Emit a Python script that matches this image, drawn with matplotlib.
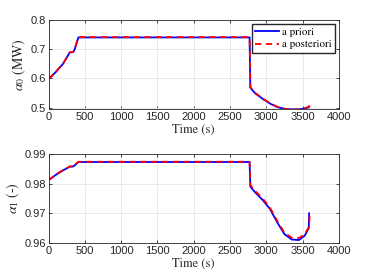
import matplotlib
matplotlib.use("Agg")
import matplotlib.pyplot as plt

plt.rcParams['mathtext.fontset'] = 'stix'

# Data
t_prior = [0, 20, 100, 200, 290, 340, 360, 410, 1000, 2000, 2770, 2780, 2850, 2950, 3050, 3150, 3250, 3350, 3450, 3530, 3585, 3590]
a0_prior = [0.605, 0.602, 0.622, 0.650, 0.688, 0.690, 0.700, 0.740, 0.740, 0.740, 0.740, 0.568, 0.548, 0.530, 0.514, 0.502, 0.496, 0.494, 0.494, 0.497, 0.501, 0.503]
a1_prior = [0.9818, 0.9815, 0.9830, 0.9845, 0.9857, 0.9858, 0.9862, 0.9873, 0.9873, 0.9873, 0.9873, 0.9790, 0.9770, 0.9745, 0.9715, 0.9670, 0.9630, 0.9612, 0.9610, 0.9625, 0.9650, 0.9700]

t_post = [0, 20, 100, 200, 290, 340, 360, 410, 1000, 2000, 2770, 2780, 2850, 2950, 3050, 3150, 3250, 3350, 3450, 3530, 3590, 3600]
a0_post = [0.608, 0.603, 0.623, 0.651, 0.689, 0.691, 0.701, 0.741, 0.741, 0.741, 0.741, 0.570, 0.550, 0.531, 0.515, 0.503, 0.496, 0.494, 0.494, 0.498, 0.503, 0.515]
a1_post = [0.9820, 0.9816, 0.9831, 0.9846, 0.9858, 0.9859, 0.9863, 0.9874, 0.9874, 0.9874, 0.9874, 0.9795, 0.9775, 0.9750, 0.9720, 0.9675, 0.9635, 0.9618, 0.9617, 0.9630, 0.9655, 0.9705]

x_ticks = [0, 500, 1000, 1500, 2000, 2500, 3000, 3500, 4000]
y0_ticks = [0.5, 0.6, 0.7, 0.8]
y1_ticks = [0.96, 0.97, 0.98, 0.99]

fig = plt.figure(figsize=(3.74, 2.80), dpi=100)
ax0 = fig.add_axes([0.130, 0.611, 0.776, 0.318])
ax1 = fig.add_axes([0.130, 0.132, 0.776, 0.318])

edge = '#262626'
for ax, yp, ypo, yt, ylim, ylab in [
    (ax0, a0_prior, a0_post, y0_ticks, (0.4955, 0.8), r'$\alpha_0$ (MW)'),
    (ax1, a1_prior, a1_post, y1_ticks, (0.96, 0.99), r'$\alpha_1$ (-)'),
]:
    ax.plot(t_prior, yp, color='#0000ff', lw=1.3, label='a priori')
    ax.plot(t_post, ypo, color='#ff0000', lw=1.3, ls=(0, (3.5, 2.5)), label='a posteriori')
    ax.set_xlim(0, 4000)
    ax.set_ylim(*ylim)
    ax.set_xticks(x_ticks)
    ax.set_yticks(yt)
    ax.grid(True, color='#e6e6e6', lw=0.6)
    ax.set_axisbelow(True)
    ax.tick_params(direction='in', length=2.5, width=0.6, labelsize=8, colors=edge,
                   top=True, right=True, pad=2)
    for lab in ax.get_xticklabels() + ax.get_yticklabels():
        lab.set_family('Liberation Sans')
    for s in ax.spines.values():
        s.set_color(edge)
        s.set_linewidth(0.6)
    ax.set_xlabel('Time (s)', family='STIXGeneral', fontsize=9, labelpad=1.5, color=edge)
    ax.set_ylabel(ylab, family='STIXGeneral', fontsize=10, labelpad=2, color=edge)

ax0.legend(loc='upper right', prop={'family': 'STIXGeneral', 'size': 7.8}, fancybox=False,
           edgecolor=edge, framealpha=1, handlelength=2.2, handletextpad=0.3,
           borderpad=0.3, labelspacing=0.3, borderaxespad=0.35)

fig.savefig('out.png', dpi=100)
